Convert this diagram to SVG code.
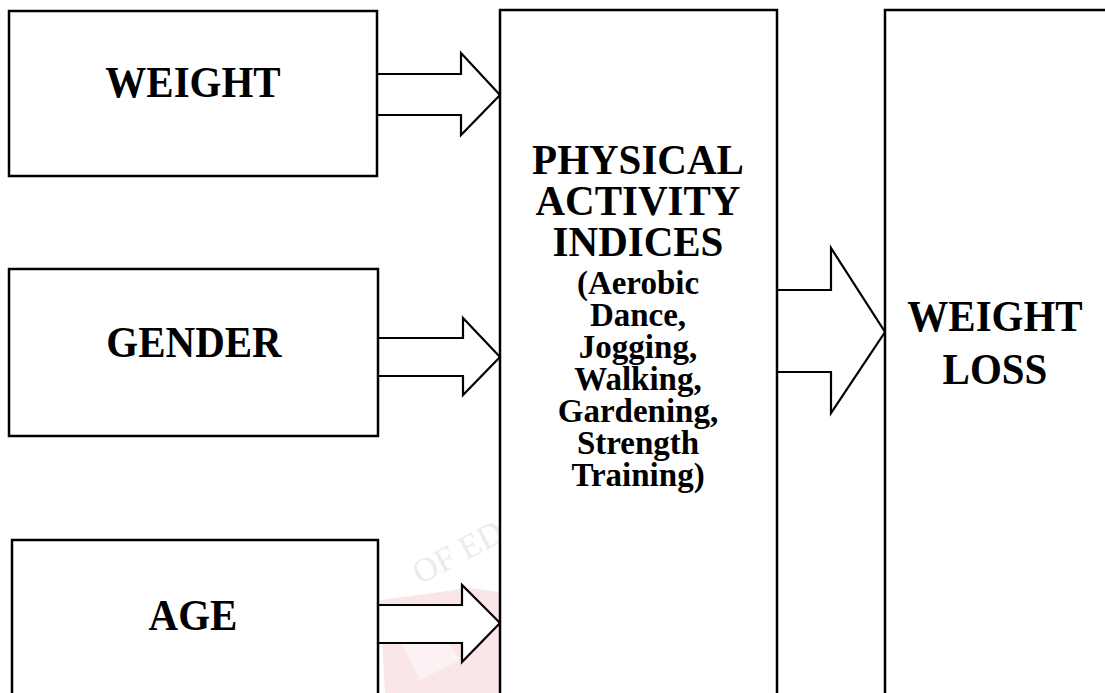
<svg xmlns="http://www.w3.org/2000/svg" width="1105" height="693" viewBox="0 0 1105 693">
<style>
.box{fill:#fff;stroke:#000;stroke-width:2.5}
.arr{fill:#fff;stroke:#000;stroke-width:2.2;stroke-linejoin:miter}
.big{font-family:"Liberation Serif","Times New Roman",serif;font-weight:bold;font-size:41px;text-anchor:middle;fill:#000}
.mid{font-family:"Liberation Serif","Times New Roman",serif;font-weight:bold;font-size:33px;text-anchor:middle;fill:#000}
</style>
<rect width="1105" height="693" fill="#fff"/>
<g id="watermark" opacity="0.45">
<path d="M380 600 L470 588 L500 592 L500 693 L385 693 Z" fill="#f6c9cc"/>
<path d="M400 640 L440 630 L460 660 L420 680 Z" fill="#fbe4e5"/>
<text x="420" y="585" transform="rotate(-28 420 585)" font-family="Liberation Serif,serif" font-size="34" fill="#c8cbd6" opacity="0.8">OF ED</text>
</g>
<g id="connectors">
<path class="arr" d="M377 74 H461 V53 L500 95 L461 135 V115 H377"/>
<path class="arr" d="M378 338 H463 V318 L500 357 L463 395 V376 H378"/>
<path class="arr" d="M378 605 H462 V585 L500 623 L462 662 V643 H378"/>
<path class="arr" d="M777 290 H831 V248 L885 332 L831 413 V372 H777"/>
</g>
<g id="weight">
<rect class="box" x="9" y="11" width="368" height="165"/>
<text class="big" transform="translate(193 97) scale(1 1.1)">WEIGHT</text>
</g>
<g id="gender">
<rect class="box" x="9" y="269" width="369" height="167"/>
<text class="big" transform="translate(194 357) scale(1 1.1)">GENDER</text>
</g>
<g id="age">
<rect class="box" x="12" y="540" width="366" height="160"/>
<text class="big" transform="translate(193 630) scale(1 1.1)">AGE</text>
</g>
<g id="physical-activity">
<rect class="box" x="500" y="10" width="277" height="700"/>
<text class="big" transform="translate(638 174) scale(1 1.05)">PHYSICAL</text>
<text class="big" transform="translate(638 215) scale(1 1.05)">ACTIVITY</text>
<text class="big" transform="translate(638 256) scale(1 1.05)">INDICES</text>
<text class="mid" x="638" y="294">(Aerobic</text>
<text class="mid" x="638" y="326">Dance,</text>
<text class="mid" x="638" y="358">Jogging,</text>
<text class="mid" x="638" y="390">Walking,</text>
<text class="mid" x="638" y="422">Gardening,</text>
<text class="mid" x="638" y="454">Strength</text>
<text class="mid" x="638" y="486">Training)</text>
</g>
<g id="weight-loss">
<rect class="box" x="885" y="10" width="240" height="700"/>
<text class="big" transform="translate(995 331) scale(1 1.1)">WEIGHT</text>
<text class="big" transform="translate(995 384) scale(1 1.1)">LOSS</text>
</g>
</svg>
